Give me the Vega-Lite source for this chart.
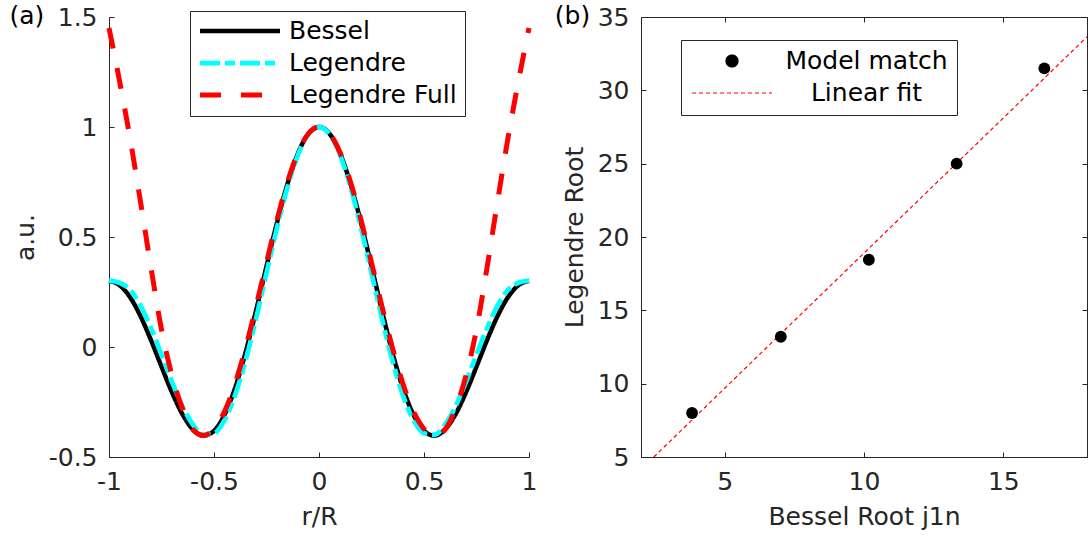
{
  "$schema": "https://vega.github.io/schema/vega-lite/v6.json",
  "background": "white",
  "padding": {"left": 9, "top": 3, "right": 0, "bottom": 0},
  "spacing": 15,
  "resolve": {
    "scale": {"color": "independent", "strokeDash": "independent", "strokeWidth": "independent", "x": "independent", "y": "independent"},
    "legend": {"color": "independent", "strokeDash": "independent", "strokeWidth": "independent"}
  },
  "config": {
    "font": "DejaVu Sans",
    "view": {"stroke": null},
    "axis": {
      "labelFont": "DejaVu Sans", "titleFont": "DejaVu Sans",
      "labelFontSize": 25, "titleFontSize": 25, "titleFontWeight": "normal",
      "labelColor": "#262626", "titleColor": "#262626",
      "domainColor": "#262626", "tickColor": "#262626",
      "domainWidth": 1, "tickWidth": 1,
      "grid": false, "tickSize": -5, "labelPadding": 17, "titlePadding": 10,
      "labelFlush": false, "labelOverlap": false
    },
    "legend": {"labelFont": "DejaVu Sans", "labelFontSize": 25, "labelColor": "#000000"},
    "title": {"font": "DejaVu Sans", "fontSize": 25, "fontWeight": "normal", "color": "#000000"}
  },
  "hconcat": [
    {
      "width": 420,
      "height": 440,
      "title": {"text": "(a)", "orient": "left", "anchor": "end", "frame": "group", "angle": 0, "align": "left", "baseline": "top", "offset": 5, "dx": 36, "dy": -13},
      "data": {"values": [
        {"r": -1, "v": 0.3001, "s": "Bessel"}, {"r": -0.95, "v": 0.2812, "s": "Bessel"}, {"r": -0.9, "v": 0.2265, "s": "Bessel"}, {"r": -0.85, "v": 0.1403, "s": "Bessel"}, {"r": -0.8, "v": 0.0311, "s": "Bessel"}, {"r": -0.75, "v": -0.089, "s": "Bessel"}, {"r": -0.7, "v": -0.2062, "s": "Bessel"}, {"r": -0.65, "v": -0.3059, "s": "Bessel"}, {"r": -0.6, "v": -0.375, "s": "Bessel"}, {"r": -0.55, "v": -0.4027, "s": "Bessel"}, {"r": -0.5, "v": -0.3812, "s": "Bessel"}, {"r": -0.45, "v": -0.3081, "s": "Bessel"}, {"r": -0.4, "v": -0.1875, "s": "Bessel"}, {"r": -0.35, "v": -0.026, "s": "Bessel"}, {"r": -0.3, "v": 0.1639, "s": "Bessel"}, {"r": -0.25, "v": 0.3667, "s": "Bessel"}, {"r": -0.2, "v": 0.5652, "s": "Bessel"}, {"r": -0.15, "v": 0.7417, "s": "Bessel"}, {"r": -0.1, "v": 0.8807, "s": "Bessel"}, {"r": -0.05, "v": 0.9695, "s": "Bessel"}, {"r": 0, "v": 1, "s": "Bessel"},
        {"r": 0.05, "v": 0.9695, "s": "Bessel"}, {"r": 0.1, "v": 0.8807, "s": "Bessel"}, {"r": 0.15, "v": 0.7417, "s": "Bessel"}, {"r": 0.2, "v": 0.5652, "s": "Bessel"}, {"r": 0.25, "v": 0.3667, "s": "Bessel"}, {"r": 0.3, "v": 0.1639, "s": "Bessel"}, {"r": 0.35, "v": -0.026, "s": "Bessel"}, {"r": 0.4, "v": -0.1875, "s": "Bessel"}, {"r": 0.45, "v": -0.3081, "s": "Bessel"}, {"r": 0.5, "v": -0.3812, "s": "Bessel"}, {"r": 0.55, "v": -0.4027, "s": "Bessel"}, {"r": 0.6, "v": -0.375, "s": "Bessel"}, {"r": 0.65, "v": -0.3059, "s": "Bessel"}, {"r": 0.7, "v": -0.2062, "s": "Bessel"}, {"r": 0.75, "v": -0.089, "s": "Bessel"}, {"r": 0.8, "v": 0.0311, "s": "Bessel"}, {"r": 0.85, "v": 0.1403, "s": "Bessel"}, {"r": 0.9, "v": 0.2265, "s": "Bessel"}, {"r": 0.95, "v": 0.2812, "s": "Bessel"}, {"r": 1, "v": 0.3001, "s": "Bessel"},
        {"r": -1, "v": 0.302, "s": "Legendre"}, {"r": -0.95, "v": 0.292, "s": "Legendre"}, {"r": -0.9, "v": 0.2602, "s": "Legendre"}, {"r": -0.85, "v": 0.1876, "s": "Legendre"}, {"r": -0.8, "v": 0.0856, "s": "Legendre"}, {"r": -0.75, "v": -0.0345, "s": "Legendre"}, {"r": -0.7, "v": -0.1582, "s": "Legendre"}, {"r": -0.65, "v": -0.2701, "s": "Legendre"}, {"r": -0.6, "v": -0.3535, "s": "Legendre"}, {"r": -0.55, "v": -0.3983, "s": "Legendre"}, {"r": -0.5, "v": -0.3928, "s": "Legendre"}, {"r": -0.45, "v": -0.3327, "s": "Legendre"}, {"r": -0.4, "v": -0.2205, "s": "Legendre"}, {"r": -0.35, "v": -0.0625, "s": "Legendre"}, {"r": -0.3, "v": 0.1285, "s": "Legendre"}, {"r": -0.25, "v": 0.3362, "s": "Legendre"}, {"r": -0.2, "v": 0.5423, "s": "Legendre"}, {"r": -0.15, "v": 0.7272, "s": "Legendre"}, {"r": -0.1, "v": 0.8737, "s": "Legendre"}, {"r": -0.05, "v": 0.9676, "s": "Legendre"}, {"r": 0, "v": 1, "s": "Legendre"},
        {"r": 0.05, "v": 0.9676, "s": "Legendre"}, {"r": 0.1, "v": 0.8737, "s": "Legendre"}, {"r": 0.15, "v": 0.7272, "s": "Legendre"}, {"r": 0.2, "v": 0.5423, "s": "Legendre"}, {"r": 0.25, "v": 0.3362, "s": "Legendre"}, {"r": 0.3, "v": 0.1285, "s": "Legendre"}, {"r": 0.35, "v": -0.0625, "s": "Legendre"}, {"r": 0.4, "v": -0.2205, "s": "Legendre"}, {"r": 0.45, "v": -0.3327, "s": "Legendre"}, {"r": 0.5, "v": -0.3928, "s": "Legendre"}, {"r": 0.55, "v": -0.3983, "s": "Legendre"}, {"r": 0.6, "v": -0.3535, "s": "Legendre"}, {"r": 0.65, "v": -0.2701, "s": "Legendre"}, {"r": 0.7, "v": -0.1582, "s": "Legendre"}, {"r": 0.75, "v": -0.0345, "s": "Legendre"}, {"r": 0.8, "v": 0.0856, "s": "Legendre"}, {"r": 0.85, "v": 0.1876, "s": "Legendre"}, {"r": 0.9, "v": 0.2602, "s": "Legendre"}, {"r": 0.95, "v": 0.292, "s": "Legendre"}, {"r": 1, "v": 0.302, "s": "Legendre"},
        {"r": -1, "v": 1.45, "s": "Legendre Full"}, {"r": -0.95, "v": 1.21, "s": "Legendre Full"}, {"r": -0.9, "v": 0.95, "s": "Legendre Full"}, {"r": -0.85, "v": 0.66, "s": "Legendre Full"}, {"r": -0.8, "v": 0.36, "s": "Legendre Full"}, {"r": -0.75, "v": 0.08, "s": "Legendre Full"}, {"r": -0.7, "v": -0.13, "s": "Legendre Full"}, {"r": -0.65, "v": -0.28, "s": "Legendre Full"}, {"r": -0.6, "v": -0.375, "s": "Legendre Full"}, {"r": -0.55, "v": -0.4025, "s": "Legendre Full"}, {"r": -0.5, "v": -0.3722, "s": "Legendre Full"}, {"r": -0.45, "v": -0.2936, "s": "Legendre Full"}, {"r": -0.4, "v": -0.168, "s": "Legendre Full"}, {"r": -0.35, "v": -0.0053, "s": "Legendre Full"}, {"r": -0.3, "v": 0.1838, "s": "Legendre Full"}, {"r": -0.25, "v": 0.3836, "s": "Legendre Full"}, {"r": -0.2, "v": 0.5777, "s": "Legendre Full"}, {"r": -0.15, "v": 0.7496, "s": "Legendre Full"}, {"r": -0.1, "v": 0.8845, "s": "Legendre Full"}, {"r": -0.05, "v": 0.9705, "s": "Legendre Full"}, {"r": 0, "v": 1, "s": "Legendre Full"},
        {"r": 0.05, "v": 0.9705, "s": "Legendre Full"}, {"r": 0.1, "v": 0.8845, "s": "Legendre Full"}, {"r": 0.15, "v": 0.7496, "s": "Legendre Full"}, {"r": 0.2, "v": 0.5777, "s": "Legendre Full"}, {"r": 0.25, "v": 0.3836, "s": "Legendre Full"}, {"r": 0.3, "v": 0.1838, "s": "Legendre Full"}, {"r": 0.35, "v": -0.0053, "s": "Legendre Full"}, {"r": 0.4, "v": -0.168, "s": "Legendre Full"}, {"r": 0.45, "v": -0.2936, "s": "Legendre Full"}, {"r": 0.5, "v": -0.3722, "s": "Legendre Full"}, {"r": 0.55, "v": -0.4025, "s": "Legendre Full"}, {"r": 0.6, "v": -0.375, "s": "Legendre Full"}, {"r": 0.65, "v": -0.28, "s": "Legendre Full"}, {"r": 0.7, "v": -0.13, "s": "Legendre Full"}, {"r": 0.75, "v": 0.08, "s": "Legendre Full"}, {"r": 0.8, "v": 0.36, "s": "Legendre Full"}, {"r": 0.85, "v": 0.66, "s": "Legendre Full"}, {"r": 0.9, "v": 0.95, "s": "Legendre Full"}, {"r": 0.95, "v": 1.21, "s": "Legendre Full"}, {"r": 1, "v": 1.45, "s": "Legendre Full"}
      ]},
      "mark": {"type": "line", "interpolate": "monotone"},
      "encoding": {
        "x": {"field": "r", "type": "quantitative", "scale": {"domain": [-1, 1], "nice": false, "zero": false},
              "axis": {"values": [-1, -0.5, 0, 0.5, 1], "labelExpr": "toString(datum.value)", "title": "r/R"}},
        "y": {"field": "v", "type": "quantitative", "scale": {"domain": [-0.5, 1.5], "nice": false, "zero": false},
              "axis": {"values": [-0.5, 0, 0.5, 1, 1.5], "labelExpr": "toString(datum.value)", "title": "a.u."}},
        "color": {"field": "s", "type": "nominal",
                  "scale": {"domain": ["Bessel", "Legendre", "Legendre Full"], "range": ["#000000", "#00FFFF", "#FF0000"]},
                  "legend": {"orient": "none", "legendX": 81, "legendY": -6, "title": null,
                             "symbolType": "M-1,0H7", "symbolSize": 400, "padding": 7.5, "rowPadding": 6, "labelOffset": 66.5,
                             "strokeColor": "#262626", "fillColor": "#FFFFFF", "labelLimit": 400,
                             "encode": {"symbols": {"update": {
                               "strokeDash": {"signal": "datum.value === 'Bessel' ? [1, 0] : datum.value === 'Legendre' ? [20, 5, 10, 5] : [21, 20]"},
                               "strokeWidth": {"signal": "datum.value === 'Bessel' ? 4.5 : datum.value === 'Legendre' ? 5 : 5.5"},
                               "opacity": {"value": 1}
                             }}}}},
        "strokeDash": {"field": "s", "type": "nominal", "legend": null,
                       "scale": {"domain": ["Bessel", "Legendre", "Legendre Full"], "range": [[1, 0], [20, 5, 10, 5], [21, 20]]}},
        "strokeWidth": {"field": "s", "type": "nominal", "legend": null,
                        "scale": {"domain": ["Bessel", "Legendre", "Legendre Full"], "range": [4.5, 5, 5.5]}}
      }
    },
    {
      "width": 446,
      "height": 440,
      "title": {"text": "(b)", "orient": "left", "anchor": "end", "frame": "group", "angle": 0, "align": "left", "baseline": "top", "offset": 5, "dx": 33, "dy": -13},
      "view": {"stroke": "#262626", "strokeWidth": 1},
      "layer": [
        {
          "data": {"values": [
            {"x": 2.46, "y": 5.0, "s": "Linear fit"},
            {"x": 18, "y": 33.65, "s": "Linear fit"}
          ]},
          "mark": {"type": "line", "strokeWidth": 1.2, "strokeDash": [4, 3]},
          "encoding": {
            "x": {"field": "x", "type": "quantitative", "scale": {"domain": [2, 18], "nice": false, "zero": false},
                  "axis": {"values": [5, 10, 15], "title": "Bessel Root j1n"}},
            "y": {"field": "y", "type": "quantitative", "scale": {"domain": [5, 35], "nice": false, "zero": false},
                  "axis": {"values": [5, 10, 15, 20, 25, 30, 35], "title": "Legendre Root"}},
            "color": {"field": "s", "type": "nominal",
                      "scale": {"domain": ["Model match", "Linear fit"], "range": ["#000000", "#FF0000"]},
                      "legend": {"orient": "none", "legendX": 40, "legendY": 23, "title": null,
                                 "symbolType": "M-1,0H7", "symbolSize": 400, "padding": 8.5, "rowPadding": 6, "labelOffset": 152,
                                 "labelAlign": "center", "labelLimit": 400,
                                 "strokeColor": "#262626", "fillColor": "#FFFFFF",
                                 "encode": {"symbols": {"update": {
                                   "shape": {"signal": "datum.value === 'Model match' ? 'M2.4,0A0.6,0.6 0 1,0 3.6,0A0.6,0.6 0 1,0 2.4,0Z' : 'M-1,0H7'"},
                                   "size": {"value": 400},
                                   "strokeDash": {"signal": "datum.value === 'Model match' ? [1, 0] : [4, 3]"},
                                   "fill": {"signal": "datum.value === 'Model match' ? '#000000' : 'transparent'"},
                                   "stroke": {"signal": "datum.value === 'Model match' ? '#000000' : '#FF0000'"},
                                   "strokeWidth": {"value": 1.2},
                                   "opacity": {"value": 1}
                                 }}}}}
          }
        },
        {
          "data": {"values": [
            {"x": 3.8317, "y": 8.0, "s": "Model match"},
            {"x": 7.0156, "y": 13.2, "s": "Model match"},
            {"x": 10.1735, "y": 18.45, "s": "Model match"},
            {"x": 13.3237, "y": 25.0, "s": "Model match"},
            {"x": 16.4706, "y": 31.5, "s": "Model match"}
          ]},
          "mark": {"type": "point", "filled": true, "size": 140, "opacity": 1},
          "encoding": {
            "x": {"field": "x", "type": "quantitative", "axis": null},
            "y": {"field": "y", "type": "quantitative", "axis": null},
            "color": {"field": "s", "type": "nominal"}
          }
        },
        {
          "data": {"values": [
            {"x": 3.8317, "y": 8.0}
          ]},
          "mark": {"type": "point", "opacity": 0},
          "encoding": {
            "x": {"field": "x", "type": "quantitative",
                  "axis": {"orient": "top", "values": [5, 10, 15], "labels": false, "title": null, "domain": false}},
            "y": {"field": "y", "type": "quantitative",
                  "axis": {"orient": "right", "values": [5, 10, 15, 20, 25, 30, 35], "labels": false, "title": null, "domain": false}}
          }
        }
      ],
      "resolve": {"axis": {"x": "independent", "y": "independent"}}
    }
  ]
}
